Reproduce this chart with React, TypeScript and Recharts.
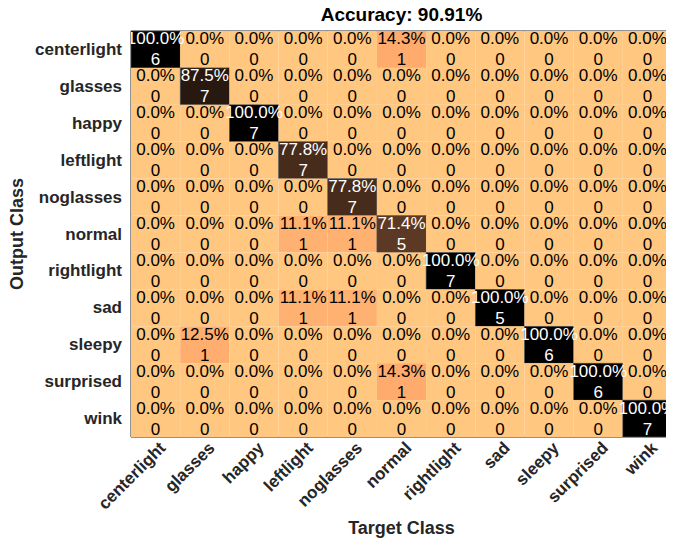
import React from 'react';
import { ScatterChart, Scatter, XAxis, YAxis, ReferenceArea, Label } from 'recharts';

// classes (same order for output rows and target columns)
const classes = [
  'centerlight', 'glasses', 'happy', 'leftlight', 'noglasses', 'normal',
  'rightlight', 'sad', 'sleepy', 'surprised', 'wink',
];

// counts[row = output class][col = target class]
const counts = [
  [6, 0, 0, 0, 0, 1, 0, 0, 0, 0, 0],
  [0, 7, 0, 0, 0, 0, 0, 0, 0, 0, 0],
  [0, 0, 7, 0, 0, 0, 0, 0, 0, 0, 0],
  [0, 0, 0, 7, 0, 0, 0, 0, 0, 0, 0],
  [0, 0, 0, 0, 7, 0, 0, 0, 0, 0, 0],
  [0, 0, 0, 1, 1, 5, 0, 0, 0, 0, 0],
  [0, 0, 0, 0, 0, 0, 7, 0, 0, 0, 0],
  [0, 0, 0, 1, 1, 0, 0, 5, 0, 0, 0],
  [0, 1, 0, 0, 0, 0, 0, 0, 6, 0, 0],
  [0, 0, 0, 0, 0, 1, 0, 0, 0, 6, 0],
  [0, 0, 0, 0, 0, 0, 0, 0, 0, 0, 7],
];

const title = 'Accuracy: 90.91%';

const W = 674;
const H = 542;
const M = { top: 31, right: 2, bottom: 0, left: 0 };
const Y_W = 131;
const X_H = 105;
const plotW = W - M.left - M.right - Y_W;
const plotH = H - M.top - M.bottom - X_H;
const cellW = plotW / classes.length;
const cellH = plotH / classes.length;

const FONT = '"Liberation Sans", Arial, sans-serif';
const INK = '#262626';

const colSums = classes.map((_, c) => counts.reduce((s, row) => s + row[c], 0));

const cells = counts.flatMap((row, r) =>
  row.map((n, c) => ({
    x: c,
    y: r,
    n,
    pct: colSums[c] ? (100 * n) / colSums[c] : 0,
  }))
);

// reversed copper colormap
const copper = (pct: number) => {
  const t = 1 - pct / 100;
  const r = Math.round(255 * Math.min(1, 1.25 * t));
  const g = Math.round(255 * 0.7812 * t);
  const b = Math.round(255 * 0.4975 * t);
  return `rgb(${r},${g},${b})`;
};

const CellRect = (p: any) => (
  <rect
    x={p.cx - cellW / 2}
    y={p.cy - cellH / 2}
    width={cellW}
    height={cellH}
    fill={copper(p.payload.pct)}
    stroke={p.payload.pct > 50 ? '#555' : 'none'}
    strokeWidth={0.6}
  />
);

const CellText = (p: any) => {
  const fill = p.payload.pct > 50 ? '#fff' : '#000';
  return (
    <g fontFamily={FONT} fontSize={17} fill={fill} textAnchor="middle" clipPath="url(#plotClip)">
      <text x={p.cx} y={p.cy - 10.5} dominantBaseline="central">
        {p.payload.pct.toFixed(1) + '%'}
      </text>
      <text x={p.cx} y={p.cy + 10.5} dominantBaseline="central">
        {p.payload.n}
      </text>
    </g>
  );
};

const XTick = (p: any) => {
  const x = p.x + 11;
  const y = M.top + plotH + 12;
  return (
    <text
      x={x}
      y={y}
      textAnchor="end"
      transform={`rotate(-45, ${x}, ${y})`}
      fontFamily={FONT}
      fontWeight="bold"
      fontSize={17}
      fill={INK}
    >
      {classes[p.payload.value]}
    </text>
  );
};

const YTick = (p: any) => (
  <text
    x={Y_W - 9}
    y={p.y}
    textAnchor="end"
    dominantBaseline="central"
    fontFamily={FONT}
    fontWeight="bold"
    fontSize={17}
    fill={INK}
  >
    {classes[p.payload.value]}
  </text>
);

const idx = classes.map((_, i) => i);

export default function App() {
  return (
    <div style={{ position: 'relative', left: -8, top: -8, width: W, height: H, background: '#fff' }}>
      <svg width={0} height={0} style={{ position: 'absolute' }}>
        <defs>
          <clipPath id="plotClip">
            <rect x={M.left + Y_W} y={M.top} width={plotW} height={plotH} />
          </clipPath>
        </defs>
      </svg>
      <div
        style={{
          position: 'absolute',
          left: M.left + Y_W,
          width: plotW,
          top: 4,
          textAlign: 'center',
          fontFamily: FONT,
          fontWeight: 'bold',
          fontSize: 19,
          color: '#000',
          lineHeight: '22px',
        }}
      >
        {title}
      </div>
      <ScatterChart width={W} height={H} margin={M}>
        <XAxis
          type="number"
          dataKey="x"
          domain={[-0.5, 10.5]}
          ticks={idx}
          interval={0}
          allowDataOverflow
          axisLine={false}
          tickLine={false}
          height={X_H}
          tick={<XTick />}
        >
          <Label
            content={() => (
              <text
                x={M.left + Y_W + plotW / 2}
                y={528}
                textAnchor="middle"
                dominantBaseline="central"
                fontFamily={FONT}
                fontWeight="bold"
                fontSize={18}
                fill={INK}
              >
                Target Class
              </text>
            )}
          />
        </XAxis>
        <YAxis
          type="number"
          dataKey="y"
          domain={[-0.5, 10.5]}
          reversed
          ticks={idx}
          interval={0}
          allowDataOverflow
          axisLine={false}
          tickLine={false}
          width={Y_W}
          tick={<YTick />}
        >
          <Label
            content={() => (
              <text
                x={17}
                y={M.top + plotH / 2}
                textAnchor="middle"
                dominantBaseline="central"
                transform={`rotate(-90, 17, ${M.top + plotH / 2})`}
                fontFamily={FONT}
                fontWeight="bold"
                fontSize={18}
                fill={INK}
              >
                Output Class
              </text>
            )}
          />
        </YAxis>
        <Scatter data={cells} shape={CellRect} isAnimationActive={false} />
        <Scatter data={cells} shape={CellText} isAnimationActive={false} />
        <ReferenceArea
          x1={-0.5}
          x2={10.5}
          y1={-0.5}
          y2={10.5}
          fill="none"
          fillOpacity={0}
          stroke={INK}
          strokeWidth={1}
          strokeOpacity={1}
        />
      </ScatterChart>
    </div>
  );
}
